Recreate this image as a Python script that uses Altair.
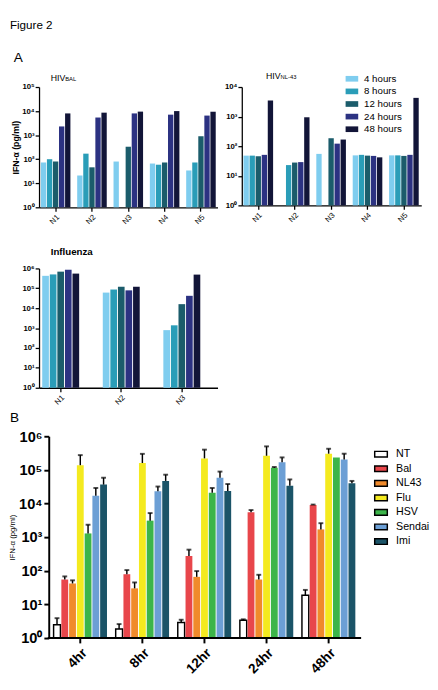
import altair as alt
import pandas as pd

FONT = "Liberation Sans"

# ---------------- Panel A data ----------------
times = ["4 hours", "8 hours", "12 hours", "24 hours", "48 hours"]
time_colors = ["#7fcdef", "#2a9db8", "#1b5c6b", "#2c3282", "#121538"]

donors = ["N1", "N2", "N3", "N4", "N5"]
bal_4h = [73, 21, 80, 66, 34]
bal_8h = [100, 170, None, 59, 73]
bal_12h = [80, 46, 330, 73, 900]
bal_24h = [2300, 5400, 8000, 7100, 6500]
bal_48h = [8000, 8600, 9500, 10000, 9400]

nl43_4h = [48, None, 55, 49, 49]
nl43_8h = [48, 23, None, 51, 49]
nl43_12h = [46, 28, 186, 48, 47]
nl43_24h = [51, 29, 122, 47, 51]
nl43_48h = [3500, 950, 168, 42, 4300]

flu_donors = ["N1", "N2", "N3"]
flu_4h = [425000, 61000, 790]
flu_8h = [500000, 87000, 1380]
flu_12h = [690000, 120000, 16000]
flu_24h = [860000, 79000, 42000]
flu_48h = [550000, 120000, 490000]

# ---------------- Panel B data ----------------
timepoints = ["4hr", "8hr", "12hr", "24hr", "48hr"]
treatments = ["NT", "Bal", "NL43", "Flu", "HSV", "Sendai", "Imi"]
treat_colors = ["#ffffff", "#e8464b", "#f08a2b", "#f4ea1f", "#3cb54a", "#6c9fd5", "#1b5468"]

nt_mean = [2.5, 1.85, 2.9, 3.4, 18.8]
nt_hi = [3.9, 2.6, 3.5, 3.6, 27]
bal_mean = [55, 79, 275, 5500, 9000]
bal_hi = [68, 105, 425, 6400, 9300]
nl_mean = [42, 30, 66, 55, 1700]
nl_hi = [52, 45, 98, 76, 2600]
flu_mean = [138000, 160000, 220000, 263000, 303000]
flu_hi = [275000, 300000, 400000, 500000, 425000]
hsv_mean = [1290, 3100, 21000, 115000, 235000]
hsv_hi = [2340, 5200, 29000, 122000, None]
sen_mean = [17000, 23300, 58500, 170000, 204000]
sen_hi = [29000, 32000, 89000, 235000, 303000]
imi_mean = [36500, 47000, 23600, 34000, 40000]
imi_hi = [58500, 72000, 38000, 52000, 47000]


def slot_domain(groups, members, n_gap, n_trail=0, n_lead=0):
    """Band-scale domain: one slot per (group, member) plus empty gap slots between groups."""
    dom = [f"lead_{k}" for k in range(n_lead)]
    for i, g in enumerate(groups):
        dom += [f"{g}|{m}" for m in members]
        if i < len(groups) - 1:
            dom += [f"gap{i}_{k}" for k in range(n_gap)]
    dom += [f"trail_{k}" for k in range(n_trail)]
    return dom


def a_frame(cats, series):
    rows = []
    for t, vals in zip(times, series):
        for c, v in zip(cats, vals):
            if v is not None:
                rows.append({"slot": f"{c}|{t}", "donor": c, "time": t, "value": v})
    return pd.DataFrame(rows)


df_bal = a_frame(donors, [bal_4h, bal_8h, bal_12h, bal_24h, bal_48h])
df_nl = a_frame(donors, [nl43_4h, nl43_8h, nl43_12h, nl43_24h, nl43_48h])
df_flu = a_frame(flu_donors, [flu_4h, flu_8h, flu_12h, flu_24h, flu_48h])

b_rows = []
for tr, means, his in zip(
    treatments,
    [nt_mean, bal_mean, nl_mean, flu_mean, hsv_mean, sen_mean, imi_mean],
    [nt_hi, bal_hi, nl_hi, flu_hi, hsv_hi, sen_hi, imi_hi],
):
    for tp, m, h in zip(timepoints, means, his):
        b_rows.append({"slot": f"{tp}|{tr}", "time": tp, "treatment": tr, "value": m, "hi": h})
df_b = pd.DataFrame(b_rows)
df_b_err = df_b.dropna(subset=["hi"])

SUP = "'10' + ['\u2070','\u00b9','\u00b2','\u00b3','\u2074','\u2075','\u2076'][round(log(datum.value)/LN10)]"
GROUP_LABEL = "split(datum.value, '|')[0]"
YTITLE = "IFN-\u03b1 (pg/ml)"

rect_path = "M-1,-0.45H1V0.45H-1Z"
one_row = pd.DataFrame({"a": [0]})


def text_layer(txt, x, y, size, weight="normal", baseline="alphabetic"):
    return alt.Chart(pd.DataFrame({"t": [txt]})).mark_text(
        align="left", baseline=baseline, fontSize=size, fontWeight=weight, color="black", font=FONT
    ).encode(text="t:N", x=alt.value(x), y=alt.value(y))


def a_panel(df, cats, top_pow, width, height, n_gap, n_trail, xscale, ytitle_color, legend, extras):
    dom = slot_domain(cats, times, n_gap, n_trail)
    yaxis_kw = dict(
        values=[10 ** i for i in range(top_pow + 1)],
        labelExpr=SUP,
        labelFontSize=8,
        labelFontWeight="bold",
        tickSize=4,
        labelPadding=1,
    )
    if ytitle_color:
        yaxis = alt.Axis(title=YTITLE, titleFontSize=9, titleFontWeight="bold", titlePadding=1,
                         titleColor=ytitle_color, **yaxis_kw)
    else:
        yaxis = alt.Axis(title=None, **yaxis_kw)
    bars = alt.Chart(df).mark_bar().encode(
        x=alt.X(
            "slot:N",
            scale=alt.Scale(domain=dom, **xscale),
            axis=alt.Axis(
                title=None, values=[f"{c}|{times[2]}" for c in cats], labelExpr=GROUP_LABEL,
                labelAngle=-45, labelFontSize=8, tickSize=4, labelPadding=2,
            ),
        ),
        y=alt.Y("value:Q", scale=alt.Scale(type="log", domain=[1, 10 ** top_pow]), axis=yaxis),
        y2=alt.datum(1),
        color=alt.Color("time:N", sort=times, scale=alt.Scale(domain=times, range=time_colors), legend=legend),
    ).properties(width=width, height=height)
    return alt.layer(bars, *extras)


legend_a = alt.Legend(
    title=None,
    orient="none",
    legendX=107,
    legendY=-15,
    symbolType=rect_path,
    symbolSize=169,
    symbolStrokeWidth=0,
    labelFontSize=10,
    labelOffset=6,
    rowPadding=1,
)

bal = a_panel(
    df_bal, donors, 5, 184, 124, 1, 0,
    dict(paddingInner=0.12, paddingOuter=0.3),
    "black", None,
    [
        text_layer("Figure 2", -30, -69, 12, baseline="top"),
        text_layer("A", -26, -37, 14, baseline="top"),
        text_layer("HIV", 12, -6, 9),
        text_layer("BAL", 27, -6, 6),
    ],
)
nl43 = a_panel(
    df_nl, donors, 4, 185, 122, 1, 0,
    dict(paddingInner=0.12, paddingOuter=0.35, align=0.4),
    None, legend_a,
    [text_layer("HIV", 25, -8, 9), text_layer("NL-43", 40, -8, 6)],
)
flu_gap = alt.Chart(one_row).mark_rule(strokeOpacity=0).encode(
    x=alt.value(0), x2=alt.value(2), y=alt.value(-39)
)
flu = a_panel(
    df_flu, flu_donors, 6, 184, 123, 3, 2,
    dict(paddingInner=0.12, paddingOuter=0.35, align=0.6),
    "transparent", None,
    [flu_gap, text_layer("Influenza", 12, -14, 10, "bold")],
)

# ---------------- Panel B chart ----------------
BW, BH = 332, 208
AXIS_SHIFT = 10  # y axis sits this far inside the plot's left edge
b_dom = slot_domain(timepoints, treatments, 1, n_lead=1)
bx = alt.X(
    "slot:N",
    scale=alt.Scale(domain=b_dom, paddingInner=0.12, paddingOuter=0.81, align=0.54),
    axis=alt.Axis(
        title=None, values=[f"{t}|{treatments[3]}" for t in timepoints], labelExpr=GROUP_LABEL,
        labelAngle=-45, labelFontSize=14, labelFontWeight="bold", tickSize=5,
        tickWidth=2, domain=False, labelPadding=3,
    ),
)
by_scale = alt.Scale(type="log", domain=[1, 1e6])

b_bars = alt.Chart(df_b).mark_bar(strokeWidth=1.5).encode(
    x=bx,
    y=alt.Y(
        "value:Q",
        scale=by_scale,
        axis=alt.Axis(
            values=[10 ** i for i in range(7)],
            labelExpr=SUP,
            labelFontSize=15,
            labelFontWeight="bold",
            tickSize=5,
            tickWidth=2,
            domainWidth=2,
            labelPadding=2,
            offset=-AXIS_SHIFT,
            title=YTITLE,
            titleFontSize=8,
            titleFontWeight="normal",
            titlePadding=2,
        ),
    ),
    y2=alt.datum(1),
    color=alt.Color(
        "treatment:N",
        sort=treatments,
        scale=alt.Scale(domain=treatments, range=treat_colors),
        legend=alt.Legend(
            title=None,
            orient="none",
            legendX=345,
            legendY=11,
            symbolType=rect_path,
            symbolSize=169,
            symbolStrokeColor="black",
            symbolStrokeWidth=1.5,
            labelFontSize=11,
            labelOffset=8,
            rowPadding=1,
        ),
    ),
    stroke=alt.condition("datum.treatment === 'NT'", alt.value("black"), alt.value("transparent")),
).properties(width=BW, height=BH)
b_rule = alt.Chart(df_b_err).mark_rule(color="black", strokeWidth=1.5).encode(
    x=bx, y=alt.Y("value:Q", scale=by_scale), y2="hi:Q"
).properties(width=BW, height=BH)
b_cap = alt.Chart(df_b_err).mark_tick(color="black", thickness=2, size=5).encode(
    x=bx, y=alt.Y("hi:Q", scale=by_scale)
).properties(width=BW, height=BH)
b_xline = alt.Chart(one_row).mark_rule(color="black", strokeWidth=2).encode(
    x=alt.value(AXIS_SHIFT - 1), x2=alt.value(BW), y=alt.value(BH)
).properties(width=BW, height=BH)
b_label = text_layer("B", -30, -26, 14, baseline="top").properties(width=BW, height=BH)
bchart = alt.layer(b_bars, b_rule, b_cap, b_xline, b_label)

# ---------------- Layout (one level of nesting only) ----------------
row1 = alt.hconcat(bal, nl43, spacing=5).resolve_scale(color="independent")
row2 = alt.hconcat(flu)
row3 = alt.hconcat(bchart)

chart = (
    alt.vconcat(row1, row2, row3, spacing=3)
    .resolve_scale(color="independent")
    .properties(padding={"left": 0, "top": 0, "right": 0, "bottom": 0})
    .configure(font=FONT)
    .configure_view(stroke="transparent")
    .configure_axis(
        domainColor="black",
        domainWidth=1.3,
        tickColor="black",
        tickWidth=1.3,
        labelColor="black",
        titleColor="black",
        grid=False,
        labelFont=FONT,
        titleFont=FONT,
    )
    .configure_legend(labelColor="black", labelFont=FONT)
)

chart.save("out.html", embed_options={"renderer": "svg", "actions": False})
